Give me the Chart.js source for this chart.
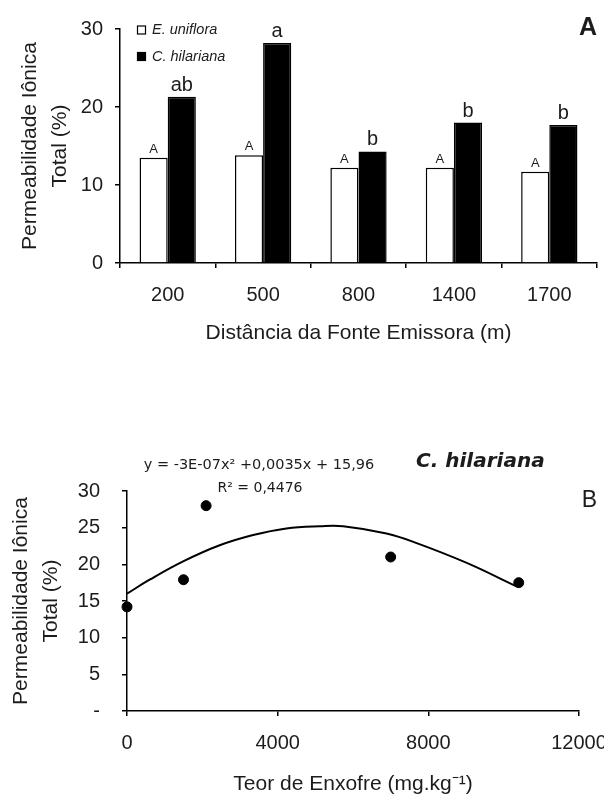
<!DOCTYPE html>
<html>
<head>
<meta charset="utf-8">
<script src="https://cdn.jsdelivr.net/npm/chart.js@4"></script>
<style>
  html, body { margin: 0; padding: 0; background: #fff; }
  #wrapA { position: absolute; left: 0; top: 0; width: 604px; height: 360px; }
  #wrapB { position: absolute; left: 0; top: 360px; width: 604px; height: 437px; }
</style>
</head>
<body>
<div id="wrapA"><canvas id="chartA"></canvas></div>
<div id="wrapB"><canvas id="chartB"></canvas></div>
<script>
// Panel A: total ionic permeability by distance from the emission source
const distances = ['200', '500', '800', '1400', '1700'];
const uniflora = [13.5, 13.8, 12.2, 12.2, 11.7];
const hilariana = [21.3, 28.2, 14.3, 18.0, 17.7];
const lettersUniflora = ['A', 'A', 'A', 'A', 'A'];
const lettersHilariana = ['ab', 'a', 'b', 'b', 'b'];

// Panel B: C. hilariana permeability against sulphur content
const sulfur = [0, 1500, 2100, 7000, 10400];
const permeability = [14.2, 17.9, 28.0, 21.0, 17.5];
const trendX = [0, 600, 1490, 2460, 3350, 4230, 5120, 5740, 6890, 7690, 9020, 10340];
const trendY = [16.0, 17.9, 20.4, 22.6, 24.0, 24.9, 25.2, 25.2, 24.2, 22.9, 20.2, 17.0];
const equationText = 'y = -3E-07x² +0,0035x + 15,96';
const r2Text = 'R² = 0,4476';

const SANS = "'Liberation Sans', Arial, sans-serif";
const INK = '#1c1c1c';

Chart.defaults.font.family = SANS;
Chart.defaults.color = INK;
Chart.defaults.animation = false;

function axisStyle() {
  return {
    grid: { display: true, drawOnChartArea: false, drawTicks: true, tickLength: 5, color: '#000', lineWidth: 1.5 },
    border: { display: true, color: '#000', width: 1.5 }
  };
}

// letters of the mean comparison test above each bar
const barLetters = {
  id: 'barLetters',
  afterDatasetsDraw(chart) {
    const ctx = chart.ctx;
    chart.data.datasets.forEach((ds, i) => {
      const meta = chart.getDatasetMeta(i);
      ctx.save();
      ctx.font = ds.letterFont;
      ctx.fillStyle = INK;
      ctx.textAlign = 'center';
      ctx.textBaseline = 'alphabetic';
      meta.data.forEach((bar, j) => {
        ctx.fillText(ds.letters[j], bar.x, bar.y - ds.letterGap);
      });
      ctx.restore();
    });
  }
};

// small legend in the upper left corner of the plot, plus panel letter
const panelA = {
  id: 'panelA',
  afterDraw(chart) {
    const ctx = chart.ctx;
    const area = chart.chartArea;
    ctx.save();
    const rows = [25.5, 52];
    chart.data.datasets.forEach((ds, i) => {
      const y = rows[i];
      ctx.fillStyle = ds.backgroundColor;
      ctx.fillRect(area.left + 17, y, 9, 9);
      ctx.strokeStyle = '#000';
      ctx.lineWidth = 1.2;
      ctx.strokeRect(area.left + 17.5, y + 0.5, 8, 8);
      ctx.fillStyle = INK;
      ctx.font = "italic 14.5px " + SANS;
      ctx.textBaseline = 'middle';
      ctx.textAlign = 'left';
      ctx.fillText(ds.label, area.left + 32, y + 4.5);
    });
    ctx.font = "bold 25px " + SANS;
    ctx.textAlign = 'right';
    ctx.textBaseline = 'middle';
    ctx.fillText('A', 597, 28);
    ctx.restore();
  }
};

new Chart(document.getElementById('chartA'), {
  type: 'bar',
  data: {
    labels: distances,
    datasets: [
      { label: 'E. uniflora', data: uniflora, backgroundColor: '#ffffff', borderColor: '#000', borderWidth: 1.5,
        letters: lettersUniflora, letterFont: "13px " + SANS, letterGap: 5 },
      { label: 'C. hilariana', data: hilariana, backgroundColor: '#000000', borderColor: '#000', borderWidth: 1.5,
        letters: lettersHilariana, letterFont: "20px " + SANS, letterGap: 6 }
    ]
  },
  options: {
    responsive: true,
    maintainAspectRatio: false,
    devicePixelRatio: 1,
    layout: { padding: { top: 29, right: 7, left: 0, bottom: 0 } },
    datasets: { bar: { categoryPercentage: 0.59, barPercentage: 1.0 } },
    plugins: { legend: { display: false }, tooltip: { enabled: false } },
    scales: {
      x: Object.assign(axisStyle(), {
        ticks: { font: { size: 20 }, padding: 15, maxRotation: 0, color: INK },
        title: { display: true, text: 'Distância da Fonte Emissora (m)', font: { size: 21 }, color: INK, padding: { top: 0, bottom: 14 } },
        afterFit(s) { s.height = 97; }
      }),
      y: Object.assign(axisStyle(), {
        min: 0, max: 30,
        ticks: { stepSize: 10, font: { size: 20 }, padding: 12, color: INK },
        title: { display: true, text: ['Permeabilidade Iônica', 'Total (%)'], font: { size: 21, lineHeight: 1.4 }, color: INK, padding: { top: 16, bottom: 0 } },
        afterFit(s) { s.width = 120; }
      })
    }
  },
  plugins: [barLetters, panelA]
});

// regression equation, species name and panel letter
const panelB = {
  id: 'panelB',
  afterDraw(chart) {
    const ctx = chart.ctx;
    ctx.save();
    ctx.fillStyle = INK;
    ctx.textBaseline = 'middle';
    ctx.textAlign = 'center';
    ctx.font = "14.5px 'DejaVu Sans', sans-serif";
    ctx.fillText(equationText, 259, 105);
    ctx.font = "14px 'DejaVu Sans', sans-serif";
    ctx.fillText(r2Text, 260, 128.5);
    ctx.textAlign = 'left';
    ctx.font = "italic bold 20px 'DejaVu Sans', sans-serif";
    ctx.fillText('C. hilariana', 416, 102);
    ctx.textAlign = 'right';
    ctx.font = "23px " + SANS;
    ctx.fillText('B', 597, 141);
    ctx.restore();
  }
};

new Chart(document.getElementById('chartB'), {
  type: 'scatter',
  data: {
    datasets: [
      { label: 'C. hilariana', data: sulfur.map((x, i) => ({ x: x, y: permeability[i] })),
        backgroundColor: '#000', borderColor: '#000', pointRadius: 5, pointStyle: 'circle', clip: false },
      { label: 'Tendência', data: trendX.map((x, i) => ({ x: x, y: trendY[i] })),
        showLine: true, pointRadius: 0, borderColor: '#000', borderWidth: 2, tension: 0.4, fill: false }
    ]
  },
  options: {
    responsive: true,
    maintainAspectRatio: false,
    devicePixelRatio: 1,
    layout: { padding: { top: 131, right: 25, left: 0, bottom: 0 } },
    plugins: { legend: { display: false }, tooltip: { enabled: false } },
    scales: {
      x: Object.assign(axisStyle(), {
        type: 'linear', min: 0, max: 12000,
        ticks: { stepSize: 4000, font: { size: 20 }, padding: 15, maxRotation: 0, color: INK,
                 callback: v => String(v) },
        title: { display: true, text: 'Teor de Enxofre (mg.kg⁻¹)', font: { size: 21 }, color: INK, padding: { top: 0, bottom: 0 } },
        afterFit(s) { s.height = 86; s.paddingRight = 0; s.paddingLeft = 0; }
      }),
      y: Object.assign(axisStyle(), {
        min: 0, max: 30,
        ticks: { stepSize: 5, font: { size: 20 }, padding: 22, color: INK,
                 callback: v => (v === 0 ? '-' : String(v)) },
        title: { display: true, text: ['Permeabilidade Iônica', 'Total (%)'], font: { size: 21, lineHeight: 1.4 }, color: INK, padding: { top: 7, bottom: 0 } },
        afterFit(s) { s.width = 127; }
      })
    }
  },
  plugins: [panelB]
});
</script>
</body>
</html>
